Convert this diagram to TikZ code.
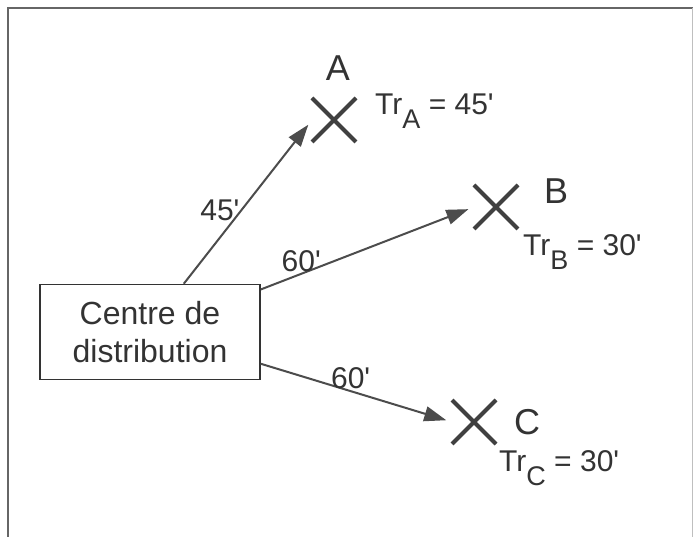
\documentclass[tikz,border=0pt]{standalone}
\usepackage{fontspec}
\setmainfont{Liberation Sans}
\usetikzlibrary{arrows.meta, positioning, shapes.misc}

\newcommand{\trlab}[2]{Tr\raisebox{-0.45em}{\fontsize{27}{27}\selectfont #1} = #2\textquotesingle}

\begin{document}
\begin{tikzpicture}[x=1pt, y=1pt, >={Triangle[length=22pt, width=15pt]},
  site/.style={cross out, draw=black!75, line width=4pt, minimum size=40pt, inner sep=0pt},
  letter/.style={font=\fontsize{36}{36}\selectfont, text=black!80},
  delay/.style={font=\fontsize{30}{30}\selectfont, text=black!80, anchor=base west, inner sep=0pt},
  time/.style={font=\fontsize{30}{30}\selectfont, text=black!80, inner sep=1pt},
  link/.style={->, draw=black!70, line width=2pt, shorten >=6pt}]
  \useasboundingbox (0,0) rectangle (693,537);

  % Frame
  \draw[black!60, line width=2pt] (8,0) -- (8,529) -- (693,529);
  \draw[black!25, line width=1pt] (692,0) -- (692,529);

  % Centre de distribution
  \node[draw=black!80, line width=1.5pt, minimum width=220pt, minimum height=95pt,
        align=center, font=\fontsize{32}{38}\selectfont, text=black!80]
        (dc) at (150,205) {Centre de\\distribution};

  % Sites
  \node[site] (A) at (334,417) {};
  \node[site] (B) at (496,330) {};
  \node[site] (C) at (474,115) {};

  \node[letter] (lA) at (338,469) {A};
  \node[letter] (lB) at (556,346) {B};
  \node[letter] (lC) at (527,115) {C};

  \node[delay] (tA) at (375,422) {\trlab{A}{45}};
  \node[delay] (tB) at (523,281) {\trlab{B}{30}};
  \node[delay] (tC) at (499,65) {\trlab{C}{30}};

  % Routes
  \draw[link] (dc.55) -- node[time, left, pos=.45] {45\textquotesingle} (A.west);
  \draw[link] (dc.21) -- node[time, above, pos=.19] {60\textquotesingle} (B.west);
  \draw[link] (dc.-16) -- node[time, above, pos=.47] {60\textquotesingle} (C.west);
\end{tikzpicture}
\end{document}
